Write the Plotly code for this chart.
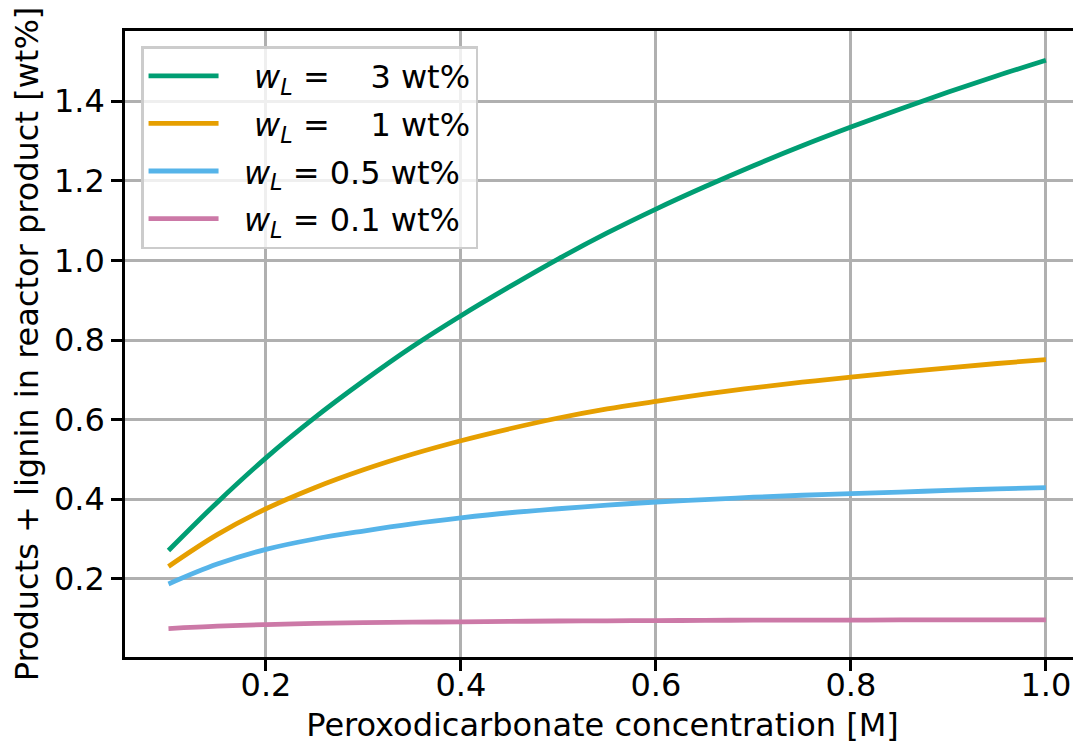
import plotly.graph_objects as go

# Peroxodicarbonate concentration [M]
conc = [0.10, 0.15, 0.20, 0.25, 0.30, 0.35, 0.40, 0.45, 0.50, 0.55,
        0.60, 0.65, 0.70, 0.75, 0.80, 0.85, 0.90, 0.95, 1.00]

# Products + lignin in reactor product [wt%]
w3 = [0.271, 0.392, 0.504, 0.605, 0.697, 0.783, 0.861, 0.934, 1.004, 1.069,
      1.129, 1.185, 1.238, 1.288, 1.335, 1.380, 1.423, 1.464, 1.503]
w1 = [0.231, 0.311, 0.376, 0.429, 0.474, 0.513, 0.547, 0.577, 0.604, 0.627,
      0.646, 0.664, 0.680, 0.694, 0.707, 0.719, 0.730, 0.741, 0.751]
w05 = [0.187, 0.237, 0.274, 0.300, 0.320, 0.338, 0.353, 0.366, 0.376, 0.385,
       0.393, 0.399, 0.405, 0.410, 0.414, 0.418, 0.422, 0.426, 0.429]
w01 = [0.075, 0.081, 0.085, 0.088, 0.090, 0.091, 0.092, 0.093, 0.094, 0.0945,
       0.095, 0.0955, 0.096, 0.096, 0.0963, 0.0966, 0.097, 0.097, 0.097]

WL = "<i>w</i><sub><i>L</i></sub> ="
PAD = "\u00a0\u00a0"
labels = [
    PAD + "\u00a0" + WL + " \u2007\u00a03 wt%",
    PAD + "\u00a0" + WL + " \u2007\u00a01 wt%",
    PAD + WL + " 0.5 wt%",
    PAD + WL + " 0.1 wt%",
]
series = [w3, w1, w05, w01]
colors = ["#009e73", "#e69f00", "#56b4e9", "#cc79a7"]

FONT = "DejaVu Sans"
FS = 32

fig = go.Figure()
for i, (lab, ys, col) in enumerate(zip(labels, series, colors)):
    fig.add_trace(go.Scatter(
        x=conc, y=ys, mode="lines", name=lab, legendgroup=f"g{i}",
        line=dict(color=col, width=4.8, shape="spline"),
    ))

# page body has an 8px margin: figure is sized so it fills the window exactly
fig.update_layout(
    width=1073, height=739,
    margin=dict(l=117, r=1, t=23, b=90),
    paper_bgcolor="white", plot_bgcolor="white",
    font=dict(family=FONT, size=FS, color="black"),
    showlegend=True,
    legend=dict(
        x=0.0168, y=0.976, xanchor="left", yanchor="top",
        bgcolor="rgba(255,255,255,0.8)", bordercolor="#cccccc", borderwidth=2.5,
        font=dict(family=FONT, size=FS, color="black"),
        tracegroupgap=3, itemwidth=70,
    ),
)

fig.update_xaxes(
    range=[0.0554, 1.035],
    tickvals=[0.2, 0.4, 0.6, 0.8, 1.0],
    ticktext=["0.2", "0.4", "0.6", "0.8", "1.0"],
    showgrid=True, gridcolor="#b0b0b0", gridwidth=2.5,
    showline=True, linecolor="black", linewidth=2.5, mirror=True,
    ticks="outside", ticklen=11, tickwidth=2.5, tickcolor="black",
    ticklabelstandoff=-13,
    zeroline=False,
    title=dict(text="Peroxodicarbonate concentration [M]", standoff=11,
               font=dict(family=FONT, size=FS)),
)
fig.update_yaxes(
    range=[0.0035, 1.5765],
    tickvals=[0.2, 0.4, 0.6, 0.8, 1.0, 1.2, 1.4],
    ticktext=["0.2", "0.4", "0.6", "0.8", "1.0", "1.2", "1.4"],
    showgrid=True, gridcolor="#b0b0b0", gridwidth=2.5,
    showline=True, linecolor="black", linewidth=2.5, mirror=False,
    ticks="outside", ticklen=11, tickwidth=2.5, tickcolor="black",
    zeroline=False,
    title=dict(text="Products + lignin in reactor product [wt%]", standoff=12,
               font=dict(family=FONT, size=FS)),
)

fig.write_html("out.html")
